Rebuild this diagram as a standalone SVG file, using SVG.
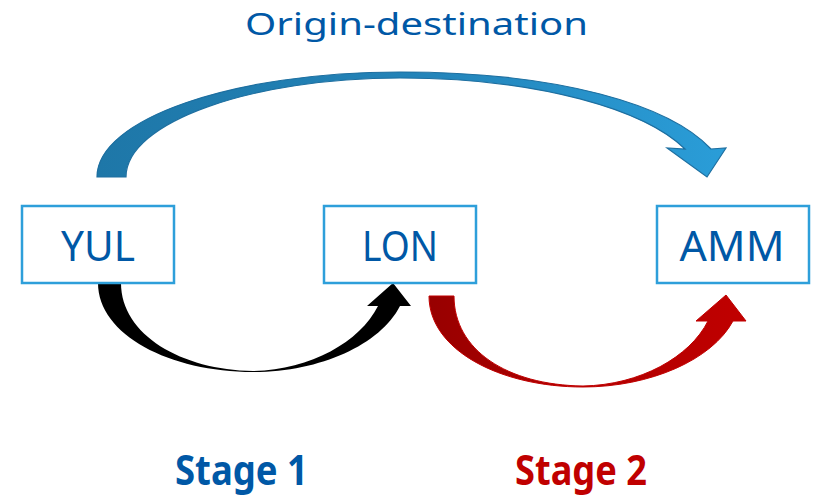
<svg xmlns="http://www.w3.org/2000/svg" width="820" height="497" viewBox="0 0 820 497">
<defs>
<linearGradient id="gBlue" x1="97" y1="0" x2="726" y2="0" gradientUnits="userSpaceOnUse">
<stop offset="0" stop-color="#1E77A8"/><stop offset="0.5" stop-color="#2383B8"/><stop offset="1" stop-color="#2A9DD8"/>
</linearGradient>
<linearGradient id="gRed" x1="429" y1="0" x2="746" y2="0" gradientUnits="userSpaceOnUse">
<stop offset="0" stop-color="#980000"/><stop offset="0.5" stop-color="#B00000"/><stop offset="1" stop-color="#C00000"/>
</linearGradient>
</defs>
<style>
.box{fill:#fff;stroke:#2E9FDA;stroke-width:2.5}
.lbl{font-family:"Noto Sans","Open Sans",sans-serif;font-size:42px;fill:#0058A6;text-anchor:middle}
.stage{font-family:"Noto Sans","Open Sans",sans-serif;font-size:41px;font-weight:bold}
</style>
<rect width="820" height="497" fill="#fff"/>
<text x="245" y="34.5" font-family="Noto Sans, Open Sans, sans-serif" font-size="31.5" fill="#0058A6" textLength="343" lengthAdjust="spacingAndGlyphs">Origin-destination</text>
<g id="connectors">
<path id="od" d="M97,177 C97,119 233,72 400,72 C560,72 670,105 711,149 L726,148 L707,177 L667,148 L685,149 C645,110 540,78 400,78 C252,78 126,122 126,177 Z" fill="url(#gBlue)" stroke="#1E6FA0" stroke-width="1.2" stroke-linejoin="miter"/>
<path id="s1" d="M98,283 C98,335 170,372 253,372 C320,372 380,345 400,306 L411,306 L393,283 L367,306 L378,306 C360,342 310,370 253,371 C182,370 121,335 121,283 Z" fill="#000"/>
<path id="s2" d="M429,296 C429,350 500,387 583,387 C650,387 712,360 733,321 L746,321 L726,295 L696,321 L708,321 C690,357 640,385 583,386 C507,385 454,350 454,296 Z" fill="url(#gRed)" stroke="#C00000" stroke-width="1"/>
</g>
<g id="YUL"><rect class="box" x="22" y="206" width="152" height="77"/><text class="lbl" x="98" y="261" textLength="74" lengthAdjust="spacingAndGlyphs">YUL</text></g>
<g id="LON"><rect class="box" x="324" y="206" width="152" height="77"/><text class="lbl" x="400" y="261" textLength="76" lengthAdjust="spacingAndGlyphs">LON</text></g>
<g id="AMM"><rect class="box" x="657" y="206" width="152" height="77"/><text class="lbl" x="732" y="261" textLength="105" lengthAdjust="spacingAndGlyphs">AMM</text></g>
<text class="stage" x="175" y="485" fill="#0058A6" textLength="133" lengthAdjust="spacingAndGlyphs">Stage 1</text>
<text class="stage" x="515" y="485" fill="#C00000" textLength="132" lengthAdjust="spacingAndGlyphs">Stage 2</text>
</svg>
